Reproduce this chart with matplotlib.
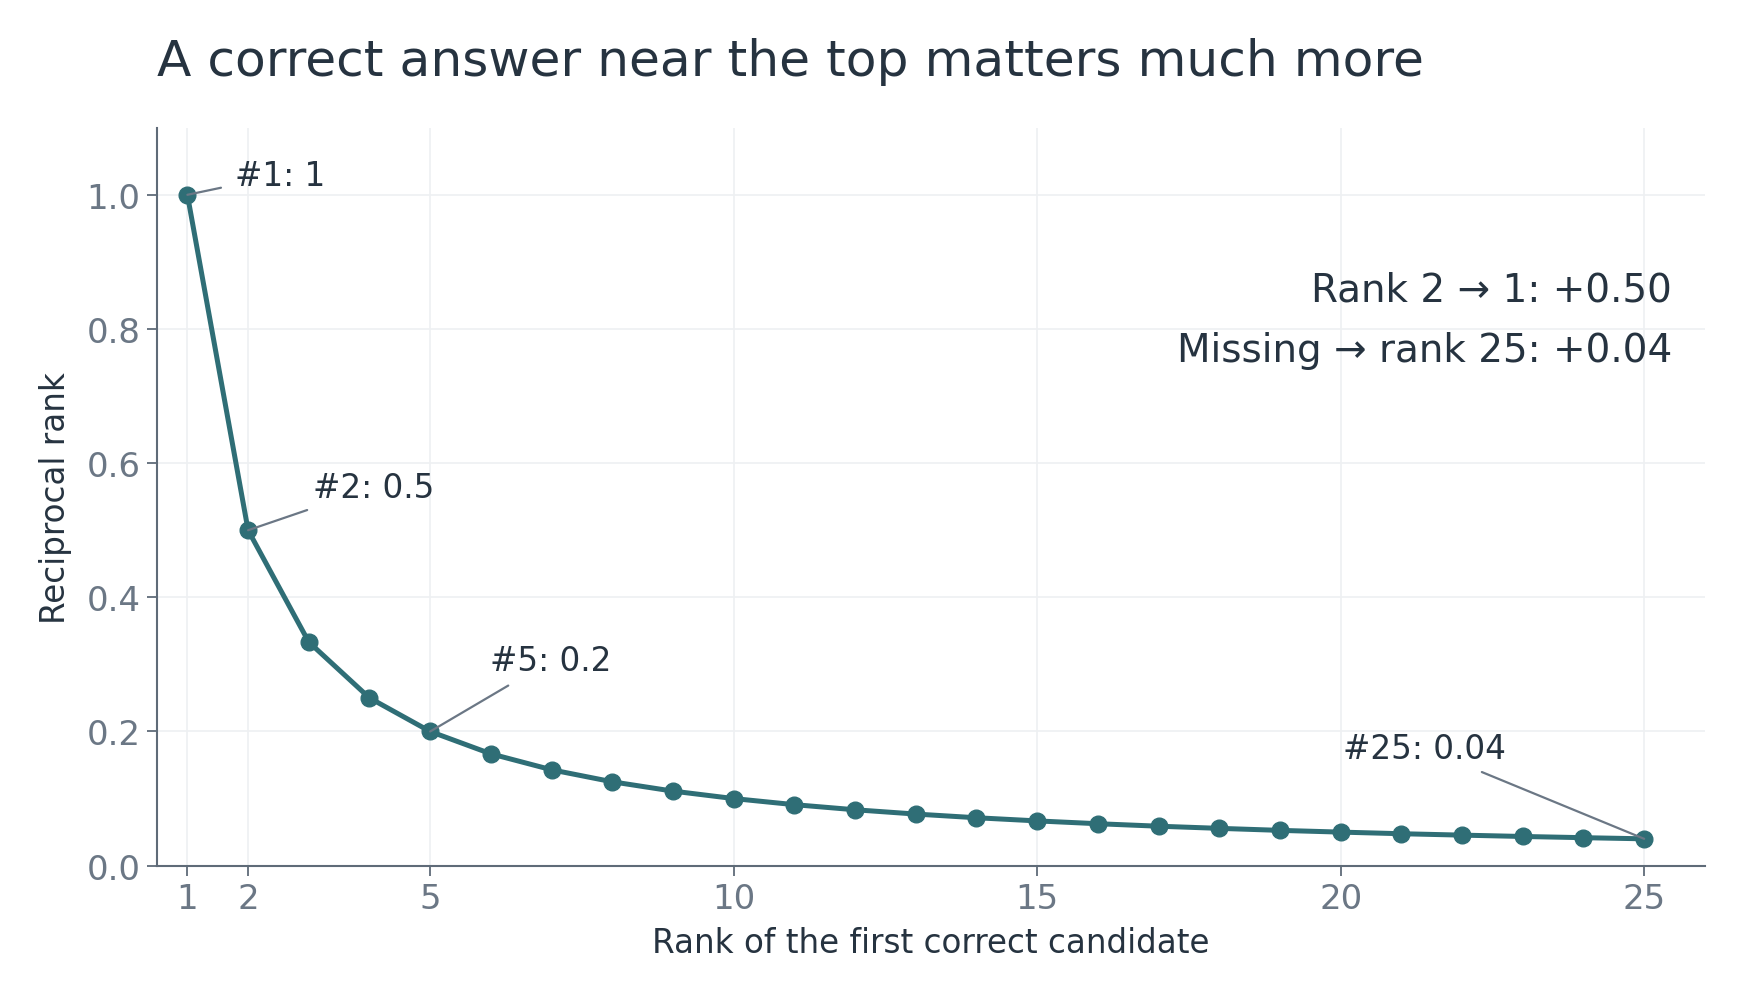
import matplotlib
matplotlib.use("Agg")
import matplotlib.pyplot as plt

ranks = list(range(1, 26))
recip = [1.0, 0.5, 0.3333, 0.25, 0.2, 0.1667, 0.1429, 0.125, 0.1111, 0.1,
         0.0909, 0.0833, 0.0769, 0.0714, 0.0667, 0.0625, 0.0588, 0.0556,
         0.0526, 0.05, 0.0476, 0.0455, 0.0435, 0.0417, 0.04]
x_ticks = [1, 2, 5, 10, 15, 20, 25]
y_ticks = [0.0, 0.2, 0.4, 0.6, 0.8, 1.0]

# (rank, label, offset in points, horizontal alignment)
callouts = [
    (1, "#1: 1", (34, 14), "left"),
    (2, "#2: 0.5", (47, 31), "left"),
    (5, "#5: 0.2", (43, 51), "left"),
    (25, "#25: 0.04", (-158, 65), "center"),
]
notes = ["Rank 2 \u2192 1: +0.50", "Missing \u2192 rank 25: +0.04"]

TEAL = "#2f6e76"
DARK = "#263340"
GREY = "#6b7785"
SPINE = "#5f6b78"
GRID = "#eef0f2"

fig = plt.figure(figsize=(17.45, 10.04), dpi=100)
ax = fig.add_axes([0.090, 0.1368, 0.887, 0.735])

ax.plot(ranks, recip, color=TEAL, linewidth=3.6, marker="o", markersize=12,
        zorder=3)

ax.set_xlim(0.5, 26)
ax.set_ylim(0, 1.1)
ax.set_xticks(x_ticks)
ax.set_yticks(y_ticks)
ax.set_yticklabels(["{:.1f}".format(v) for v in y_ticks])
ax.grid(True, color=GRID, linewidth=1.2, zorder=0)
ax.set_axisbelow(True)

for side in ["top", "right"]:
    ax.spines[side].set_visible(False)
for side in ["left", "bottom"]:
    ax.spines[side].set_color(SPINE)
    ax.spines[side].set_linewidth(1.5)
ax.tick_params(colors=SPINE, labelcolor=GREY, labelsize=24.5, length=7,
               width=1.3, pad=5)

ax.set_xlabel("Rank of the first correct candidate", fontsize=23.5,
              color=DARK, labelpad=8)
ax.set_ylabel("Reciprocal rank", fontsize=23.5, color=DARK, labelpad=10)
fig.text(0.090, 0.938, "A correct answer near the top matters much more",
         fontsize=36.2, color=DARK, ha="left", va="center")

for r, label, off, ha in callouts:
    ax.annotate(label, xy=(r, recip[r - 1]), xytext=off,
                textcoords="offset points", ha=ha, va="center",
                fontsize=23.5, color=DARK,
                arrowprops=dict(arrowstyle="-", color=GREY, linewidth=1.6,
                                shrinkA=8, shrinkB=0))

ax.text(0.979, 0.781, notes[0], transform=ax.transAxes, ha="right",
        va="center", fontsize=28, color=DARK)
ax.text(0.979, 0.699, notes[1], transform=ax.transAxes, ha="right",
        va="center", fontsize=28, color=DARK)

fig.savefig("out.png", dpi=100, facecolor="white")
